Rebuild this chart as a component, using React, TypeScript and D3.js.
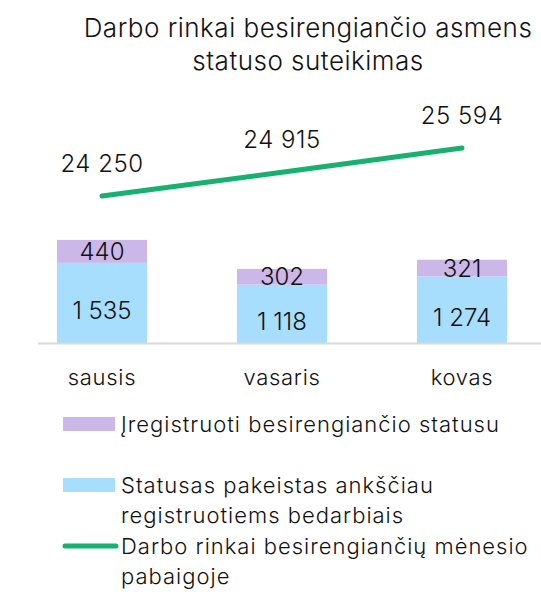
import { useEffect } from "react";
import * as d3 from "d3";

const WIDTH = 541;
const HEIGHT = 592;

const months = ["sausis", "vasaris", "kovas"];
const statusChanged = [1535, 1118, 1274];
const registered = [440, 302, 321];
const endOfMonth = [24250, 24915, 25594];

const titleLines = ["Darbo rinkai besirengiančio asmens", "statuso suteikimas"];
const legendItems = [
  { kind: "rect", color: "#cbb7e8", lines: ["Įregistruoti besirengiančio statusu"] },
  { kind: "rect", color: "#a7defd", lines: ["Statusas pakeistas ankščiau", "registruotiems bedarbiais"] },
  { kind: "line", color: "#17b06e", lines: ["Darbo rinkai besirengiančių mėnesio", "pabaigoje"] },
];

const FONT = "Inter, 'Noto Sans', sans-serif";
const TEXT = "#111";

const fmt = (v: number) => d3.format(",")(v).replace(/,/g, " ");

export default function App() {
  useEffect(() => {
    document.body.style.margin = "0";
  }, []);

  const x = d3.scaleBand<string>().domain(months).range([12, 552]).paddingInner(0.5).paddingOuter(0.25);
  const y = d3.scaleLinear().domain([0, 5000]).range([343, 82]);
  const yLine = d3.scaleLinear().domain([22000, 26000]).range([276.4, 133.5]);

  const line = d3
    .line<number>()
    .x((_, i) => (x(months[i]) ?? 0) + x.bandwidth() / 2)
    .y((d) => yLine(d));

  return (
    <svg width={WIDTH} height={HEIGHT} style={{ display: "block" }} fontFamily={FONT} fontWeight={300}>
      <rect width={WIDTH} height={HEIGHT} fill="#fff" />
      {titleLines.map((t, i) => (
        <text key={t} x={308} y={37 + i * 33} textAnchor="middle" fontSize={26} letterSpacing={0.5} fill={TEXT}>
          {t}
        </text>
      ))}

      {months.map((m, i) => {
        const x0 = x(m) ?? 0;
        const cx = x0 + x.bandwidth() / 2;
        const b = statusChanged[i];
        const p = registered[i];
        return (
          <g key={m}>
            <rect x={x0} y={y(b)} width={x.bandwidth()} height={y(0) - y(b)} fill="#a7defd" />
            <rect x={x0} y={y(b + p)} width={x.bandwidth()} height={y(b) - y(b + p)} fill="#cbb7e8" />
            <text x={cx} y={(y(0) + y(b)) / 2 + 8} dy="0.35em" textAnchor="middle" fontSize={24} fill={TEXT}>
              {fmt(b)}
            </text>
            <text x={cx} y={(y(b) + y(b + p)) / 2} dy="0.35em" textAnchor="middle" fontSize={24} fill={TEXT}>
              {fmt(p)}
            </text>
            <text x={cx} y={385} textAnchor="middle" fontSize={22} letterSpacing={0.7} fill={TEXT}>
              {m}
            </text>
          </g>
        );
      })}

      <line x1={38} x2={541} y1={y(0) + 0.5} y2={y(0) + 0.5} stroke="#d9d9d9" strokeWidth={2} />

      <path d={line(endOfMonth) ?? ""} fill="none" stroke="#17b06e" strokeWidth={5} strokeLinecap="round" />
      {endOfMonth.map((v, i) => (
        <text
          key={i}
          x={(x(months[i]) ?? 0) + x.bandwidth() / 2}
          y={yLine(v) - 24}
          textAnchor="middle"
          fontSize={24}
          letterSpacing={0.5}
          fill={TEXT}
        >
          {fmt(v)}
        </text>
      ))}

      {legendItems.map((item, i) => {
        const top = [424, 485, 546][i];
        return (
          <g key={i}>
            {item.kind === "rect" ? (
              <rect x={63} y={top - 7} width={52} height={14} fill={item.color} />
            ) : (
              <line x1={65} x2={116} y1={top} y2={top} stroke={item.color} strokeWidth={5} strokeLinecap="round" />
            )}
            {item.lines.map((l, j) => (
              <text key={j} x={121} y={top + 8 + j * 30} fontSize={22} letterSpacing={1} fill={TEXT}>
                {l}
              </text>
            ))}
          </g>
        );
      })}
    </svg>
  );
}
